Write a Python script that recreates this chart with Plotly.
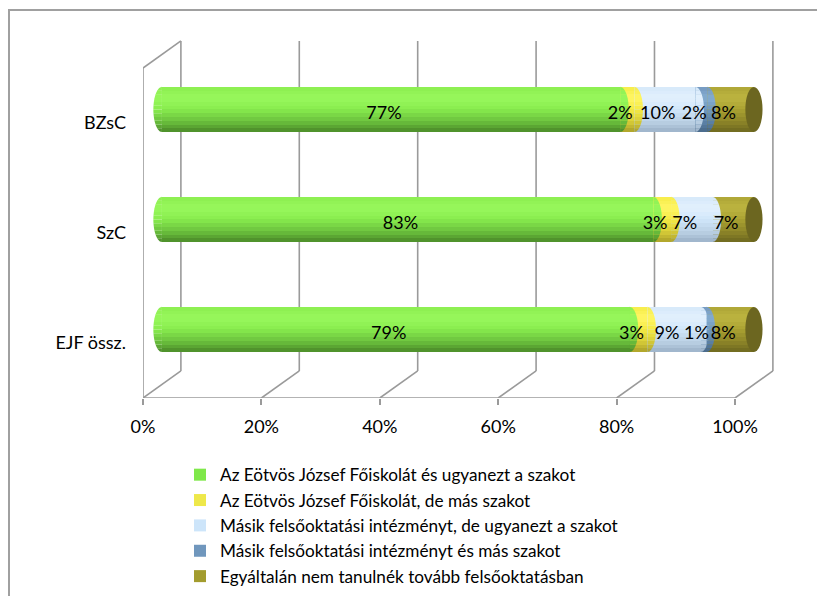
import math
import plotly.graph_objects as go

# ---------------- data ----------------
categories = ["EJF össz.", "SzC", "BZsC"]          # bottom -> top
series_names = [
    "Az Eötvös József Főiskolát és ugyanezt a szakot",
    "Az Eötvös József Főiskolát, de más szakot",
    "Másik felsőoktatási intézményt, de ugyanezt a szakot",
    "Másik felsőoktatási intézményt és más szakot",
    "Egyáltalán nem tanulnék tovább felsőoktatásban",
]
same_school_same_major = [79.0, 83.0, 77.4]
same_school_other_major = [3.0, 3.0, 2.4]
other_school_same_major = [9.0, 7.0, 10.3]
other_school_other_major = [1.0, 0.0, 2.0]
no_further_study = [8.0, 7.0, 7.9]
series_values = [same_school_same_major, same_school_other_major,
                 other_school_same_major, other_school_other_major, no_further_study]
x_tick_values = [0, 20, 40, 60, 80, 100]
x_tick_labels = ["0%", "20%", "40%", "60%", "80%", "100%"]

# ---------------- style ----------------
FONT = "Lato"
FS = 18
LFS = 17.2
legend_colors = ["#7FE84A", "#EEE84A", "#CDE5FA", "#7097BD", "#A39C2E"]
# gradient stops bottom -> top: dark, mid, main, light, main
grad = [
    ["#4A8A28", "#6CC23E", "#88EC4E", "#98F85C", "#8CEE50"],
    ["#ACA02A", "#D8CE38", "#F4EA44", "#FFF664", "#F6EC48"],
    ["#9CB2C8", "#BCD2E6", "#D0E6FA", "#E2F0FD", "#D6E9FA"],
    ["#486888", "#5E84AA", "#7098BE", "#84ACD0", "#7499C0"],
    ["#6E6820", "#8E8628", "#AAA232", "#BCB440", "#AEA636"],
]
BW = 0.41                     # bar thickness (y units)
NB = 12                       # gradient bands
DX, DY = 0.032, 0.123         # half depth of the 3D box (x units, y units)
CAP = 0.0145                  # half width of the cylinder end ellipse (x units)
GRID = "#9A9A9A"


def hex2rgb(h):
    h = h.lstrip("#")
    return [int(h[i:i + 2], 16) for i in (0, 2, 4)]


def interp(stops, t):
    n = len(stops) - 1
    p = min(t * n, n - 1e-9)
    k = int(p)
    f = p - k
    a, b = hex2rgb(stops[k]), hex2rgb(stops[k + 1])
    c = [round(a[j] + (b[j] - a[j]) * f) for j in range(3)]
    return "rgb(%d,%d,%d)" % tuple(c)


def half_ellipse_slice(xc, yc, y0, y1, side):
    """polygon of a slice (relative y0..y1) of a half ellipse at xc"""
    r = BW / 2
    n = 6
    px_, py_ = [], []
    for k in range(n + 1):
        yy = y0 + (y1 - y0) * k / n
        q = max(0.0, 1 - (yy / r) ** 2)
        px_.append(xc + side * CAP * math.sqrt(q))
        py_.append(yc + yy)
    px_ += [xc, xc]
    py_ += [yc + y1, yc + y0]
    return px_, py_


fig = go.Figure()

ys = list(range(len(categories)))
cum = [0.0] * len(categories)
label_x, label_y, label_t = [], [], []
bulges = []   # (series index, list of (xc, yc, side))
for si, (name, vals) in enumerate(zip(series_names, series_values)):
    xs = [v / 100 for v in vals]
    base = [c / 100 for c in cum]
    fig.add_trace(go.Bar(orientation="h", y=[None], x=[None], name=name,
                         marker=dict(color=legend_colors[si], line=dict(width=0)),
                         showlegend=True, hoverinfo="skip"))
    for bi in range(NB):
        w = BW / NB
        off = -BW / 2 + bi * w
        fig.add_trace(go.Bar(
            orientation="h", y=ys, x=xs, base=base, width=w * 1.02, offset=off,
            marker=dict(color=interp(grad[si], (bi + 0.5) / NB), line=dict(width=0)),
            showlegend=False, hoverinfo="skip",
        ))
    ends = []
    for i, v in enumerate(vals):
        if si == 0:
            ends.append((0.0, ys[i], -1))
        if v > 0:
            label_x.append((cum[i] + v / 2) / 100 - 0.012)
            label_y.append(ys[i] - 0.045)
            label_t.append(f"{round(v)}%")
            if si < len(series_values) - 1:
                ends.append(((cum[i] + v) / 100, ys[i], 1))
    bulges.append((si, ends))
    cum = [c + v for c, v in zip(cum, vals)]

# rounded segment ends (cylinder look), drawn with the same gradient bands
for si, ends in bulges:
    for bi in range(NB):
        w = BW / NB
        y0 = -BW / 2 + bi * w
        y1 = y0 + w * 1.02
        xx, yy = [], []
        for (xc, yc, side) in ends:
            a, b = half_ellipse_slice(xc, yc, y0, y1, side)
            xx += a + [None]
            yy += b + [None]
        fig.add_trace(go.Scatter(
            x=xx, y=yy, mode="none", fill="toself",
            fillcolor=interp(grad[si], (bi + 0.5) / NB),
            showlegend=False, hoverinfo="skip",
        ))

fig.add_trace(go.Scatter(
    x=label_x, y=label_y, text=label_t, mode="text",
    textfont=dict(family=FONT, size=FS, color="#000000"),
    showlegend=False, hoverinfo="skip",
))

shapes = []
line = dict(color=GRID, width=1.6)
y_lo, y_hi = -0.5, len(categories) - 0.5
for t in x_tick_values:
    x = t / 100
    shapes.append(dict(type="line", xref="x", yref="y", x0=x + DX, x1=x + DX,
                       y0=y_lo + DY, y1=y_hi + DY, line=line, layer="below"))
    shapes.append(dict(type="line", xref="x", yref="y", x0=x - DX, x1=x + DX,
                       y0=y_lo - DY, y1=y_lo + DY, line=line, layer="below"))
shapes.append(dict(type="line", xref="x", yref="y", x0=-DX, x1=1 - DX,
                   y0=y_lo - DY, y1=y_lo - DY, line=line, layer="below"))
shapes.append(dict(type="line", xref="x", yref="y", x0=-DX, x1=-DX,
                   y0=y_lo - DY, y1=y_hi - DY, line=line, layer="below"))
shapes.append(dict(type="line", xref="x", yref="y", x0=-DX, x1=DX,
                   y0=y_hi - DY, y1=y_hi + DY, line=line, layer="below"))
for k in range(len(categories) + 1):
    yy = y_lo + k - DY
    shapes.append(dict(type="line", xref="x", yref="y", x0=-DX - 0.009, x1=-DX,
                       y0=yy, y1=yy, line=line, layer="below"))
for i in ys:
    end = cum[i] / 100
    shapes.append(dict(type="circle", xref="x", yref="y", x0=end - CAP, x1=end + CAP,
                       y0=i - BW / 2, y1=i + BW / 2, fillcolor="#6C6620",
                       line=dict(width=0), layer="above"))

# page has an 8px body margin: work in page pixels, convert to figure pixels
OFF = 8
W, H = 825 - OFF, 596 - OFF
L, T = 143 - OFF, 35 - OFF
R = W - (780 - OFF)
B = H - (398 - OFF)
pw, ph = W - L - R, H - T - B
def px(x): return (x - OFF - L) / pw
def py(y): return (H - B - (y - OFF)) / ph
frame = dict(color="#A0A0A0", width=2)
shapes.append(dict(type="line", xref="paper", yref="paper", x0=px(8), x1=px(830),
                   y0=py(10), y1=py(10), line=frame))
shapes.append(dict(type="line", xref="paper", yref="paper", x0=px(9), x1=px(9),
                   y0=py(10), y1=py(600), line=frame))

x_per_px = 1 / 592
fig.update_layout(
    width=W, height=H, margin=dict(l=L, r=R, t=T, b=B, autoexpand=False),
    barmode="overlay", bargap=0,
    paper_bgcolor="white", plot_bgcolor="white",
    font=dict(family=FONT, size=FS, color="#000000"),
    shapes=shapes,
    showlegend=True,
    legend=dict(x=px(180), y=py(457), xanchor="left", yanchor="top",
                font=dict(family=FONT, size=LFS, color="#000000"),
                bgcolor="rgba(0,0,0,0)", tracegroupgap=0, itemclick=False),
    xaxis=dict(range=[-DX, -DX + pw * x_per_px], showgrid=False, zeroline=False,
               showline=False, tickmode="array",
               tickvals=[t / 100 - DX for t in x_tick_values], ticktext=x_tick_labels,
               ticks="outside", ticklen=6, tickcolor=GRID, tickwidth=1.6,
               ticklabelstandoff=6, fixedrange=True),
    yaxis=dict(range=[y_lo - DY, y_lo - DY + ph / 110], showgrid=False, zeroline=False,
               showline=False, tickmode="array",
               tickvals=[i - DY for i in ys], ticktext=categories,
               ticks="", ticklabelstandoff=16, fixedrange=True),
)

fig.write_html("out.html")
